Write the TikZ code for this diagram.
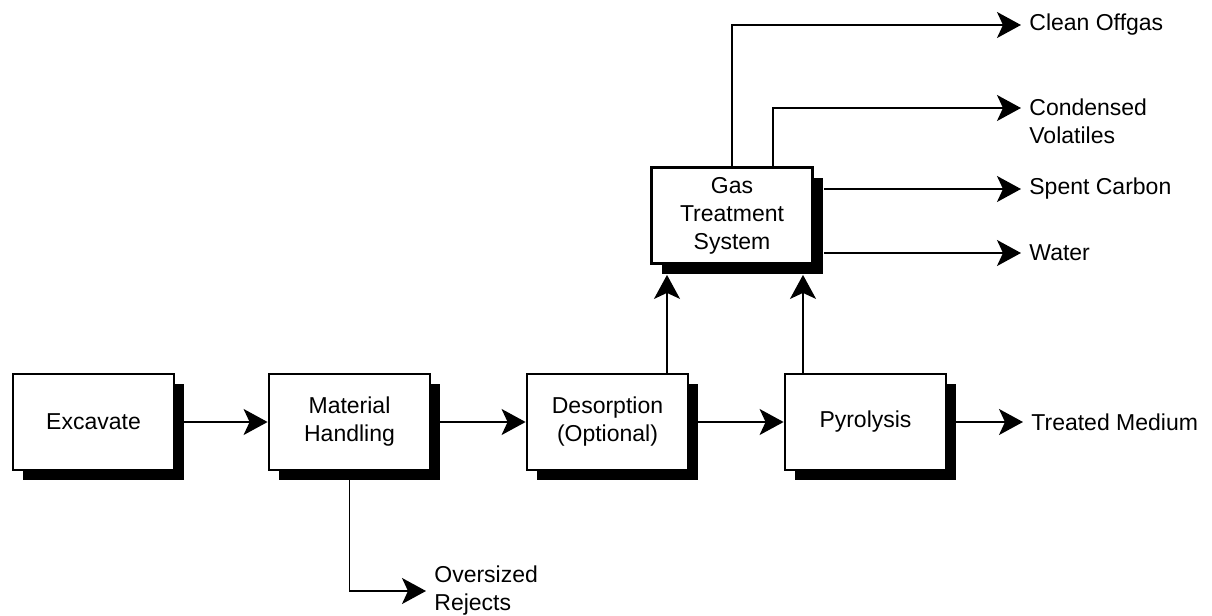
\documentclass[tikz,border=0pt]{standalone}
\usepackage{fontspec}
\setmainfont{Liberation Sans}
\usetikzlibrary{arrows.meta,shadows}

\tikzset{
  stage/.style={draw,line width=1.4pt,fill=white,minimum width=80.5pt,minimum height=48pt,align=center,
    drop shadow={shadow xshift=5pt,shadow yshift=-5pt,fill=black,opacity=1}},
  flow/.style={line width=0.9pt,-{Stealth[length=12pt,width=13pt,inset=3pt]}},
  outlabel/.style={anchor=west,inner sep=4pt,align=left}
}

\begin{document}
\begin{tikzpicture}[x=0.5pt,y=-0.5pt,font=\fontsize{11.5}{14}\selectfont]
\useasboundingbox (0,0) rectangle (1212,616);
% process stages
\node[stage] (exc) at (93.5,422) {Excavate};
\node[stage] (mat) at (349.5,422) {Material\\Handling};
\node[stage] (des) at (607.5,422) {Desorption\\(Optional)};
\node[stage] (pyr) at (865.5,422) {\raisebox{-2pt}{Pyrolysis}};
\node[stage] (gas) at (732,215.5) {Gas\\Treatment\\System};
% outputs
\node[outlabel] (clean) at (1021,25) {Clean Offgas};
\node[outlabel] (cond) at (1021,121.5) {Condensed\\Volatiles};
\node[outlabel] (spent) at (1021,189) {Spent Carbon};
\node[outlabel] (water) at (1021,253) {Water};
\node[outlabel] (treated) at (1023,422) {Treated Medium};
\node[outlabel] (over) at (426,591) {Oversized\\Rejects};
% main flow
\draw[flow] (exc.east) -- (mat.west);
\draw[flow] (mat.east) -- (des.west);
\draw[flow] (des.east) -- (pyr.west);
\draw[flow] (pyr.east) -- (treated.west);
\draw[flow] (mat.south) |- (over.west);
% to gas treatment
\draw[flow] ([xshift=29.75pt]des.north) -- ([xshift=29.75pt,yshift=-5pt]des.north |- gas.south);
\draw[flow] ([xshift=-31.25pt]pyr.north) -- ([xshift=-31.25pt,yshift=-5pt]pyr.north |- gas.south);
% gas treatment products
\draw[flow] (gas.north) |- (clean.west);
\draw[flow] ([xshift=20.5pt]gas.north) |- ([yshift=6.75pt]cond.west);
\draw[flow] ([xshift=5pt]gas.east |- spent.west) -- (spent.west);
\draw[flow] ([xshift=5pt]gas.east |- water.west) -- (water.west);
\end{tikzpicture}
\end{document}
